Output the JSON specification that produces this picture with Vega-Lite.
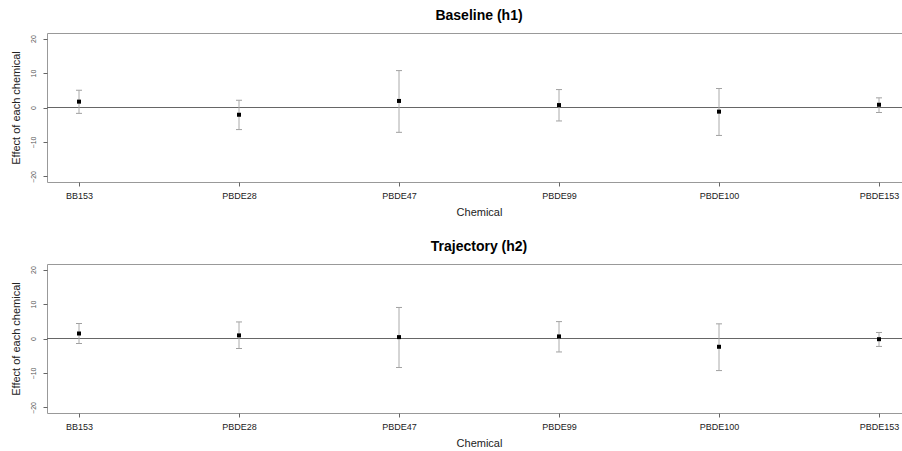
{
  "$schema": "https://vega.github.io/schema/vega-lite/v6.json",
  "padding": {"left": 9, "top": 8, "right": 0, "bottom": 0},
  "background": "white",
  "datasets": {
    "h1": [
      {"chemical": "BB153", "est": 1.7, "lo": -1.7, "hi": 5.0},
      {"chemical": "PBDE28", "est": -2.1, "lo": -6.4, "hi": 2.1},
      {"chemical": "PBDE47", "est": 1.9, "lo": -7.2, "hi": 10.7},
      {"chemical": "PBDE99", "est": 0.7, "lo": -3.9, "hi": 5.2},
      {"chemical": "PBDE100", "est": -1.2, "lo": -8.1, "hi": 5.5},
      {"chemical": "PBDE153", "est": 0.8, "lo": -1.45, "hi": 2.8}
    ],
    "h2": [
      {"chemical": "BB153", "est": 1.45, "lo": -1.45, "hi": 4.35},
      {"chemical": "PBDE28", "est": 0.9, "lo": -2.9, "hi": 4.8},
      {"chemical": "PBDE47", "est": 0.4, "lo": -8.4, "hi": 9.0},
      {"chemical": "PBDE99", "est": 0.6, "lo": -3.9, "hi": 4.9},
      {"chemical": "PBDE100", "est": -2.4, "lo": -9.3, "hi": 4.25},
      {"chemical": "PBDE153", "est": -0.2, "lo": -2.3, "hi": 1.75}
    ]
  },
  "vconcat": [
    {
      "title": {"text": "Baseline (h1)"},
      "width": 864,
      "height": 149,
      "data": {"name": "h1"},
      "layer": [
        {"mark": {"type": "rule", "color": "#666", "strokeWidth": 1}, "encoding": {"y": {"datum": 0, "type": "quantitative", "scale": {"domain": [-21.6, 21.6], "nice": false, "zero": false}, "axis": {"title": "Effect of each chemical", "values": [-20, -10, 0, 10, 20]}}}},
        {"mark": {"type": "errorbar", "color": "#aaa", "ticks": {"size": 6, "color": "#777"}}, "encoding": {
          "x": {"field": "chemical", "type": "nominal", "sort": ["BB153", "PBDE28", "PBDE47", "PBDE99", "PBDE100", "PBDE153"], "scale": {"type": "point", "padding": 0.2}, "axis": {"title": "Chemical"}},
          "y": {"field": "lo", "type": "quantitative", "axis": {"title": "Effect of each chemical", "values": [-20, -10, 0, 10, 20]}}, "y2": {"field": "hi"}}},
        {"mark": {"type": "square", "filled": true, "color": "#000", "size": 16, "opacity": 1}, "encoding": {
          "x": {"field": "chemical", "type": "nominal", "sort": ["BB153", "PBDE28", "PBDE47", "PBDE99", "PBDE100", "PBDE153"]},
          "y": {"field": "est", "type": "quantitative", "axis": {"title": "Effect of each chemical", "values": [-20, -10, 0, 10, 20]}}}}
      ]
    },
    {
      "title": {"text": "Trajectory (h2)"},
      "width": 864,
      "height": 149,
      "data": {"name": "h2"},
      "layer": [
        {"mark": {"type": "rule", "color": "#666", "strokeWidth": 1}, "encoding": {"y": {"datum": 0, "type": "quantitative", "scale": {"domain": [-21.6, 21.6], "nice": false, "zero": false}, "axis": {"title": "Effect of each chemical", "values": [-20, -10, 0, 10, 20]}}}},
        {"mark": {"type": "errorbar", "color": "#aaa", "ticks": {"size": 6, "color": "#777"}}, "encoding": {
          "x": {"field": "chemical", "type": "nominal", "sort": ["BB153", "PBDE28", "PBDE47", "PBDE99", "PBDE100", "PBDE153"], "scale": {"type": "point", "padding": 0.2}, "axis": {"title": "Chemical"}},
          "y": {"field": "lo", "type": "quantitative", "axis": {"title": "Effect of each chemical", "values": [-20, -10, 0, 10, 20]}}, "y2": {"field": "hi"}}},
        {"mark": {"type": "square", "filled": true, "color": "#000", "size": 16, "opacity": 1}, "encoding": {
          "x": {"field": "chemical", "type": "nominal", "sort": ["BB153", "PBDE28", "PBDE47", "PBDE99", "PBDE100", "PBDE153"]},
          "y": {"field": "est", "type": "quantitative", "axis": {"title": "Effect of each chemical", "values": [-20, -10, 0, 10, 20]}}}}
      ]
    }
  ],
  "spacing": 21,
  "resolve": {"scale": {"x": "independent", "y": "independent"}},
  "config": {
    "font": "Liberation Sans",
    "view": {"stroke": "#999", "strokeWidth": 1},
    "title": {"fontSize": 14, "fontWeight": "bold", "color": "#000", "anchor": "middle", "offset": 10, "font": "Liberation Sans"},
    "axisX": {
      "grid": false, "domain": false, "labelAngle": 0,
      "labelFontSize": 9, "labelColor": "#222", "tickColor": "#666", "tickSize": 4,
      "labelPadding": 5, "titleFontSize": 11, "titleFontWeight": "normal", "titleColor": "#222", "titlePadding": 6
    },
    "axisY": {
      "grid": false, "domain": false, "labelOverlap": false, "labelFlush": false,
      "labelAngle": 270, "labelFontSize": 7, "labelColor": "#555",
      "tickColor": "#666", "tickSize": 4, "labelPadding": 7, "titleFontSize": 11, "titleFontWeight": "normal", "titleColor": "#222", "titlePadding": 8
    }
  }
}
